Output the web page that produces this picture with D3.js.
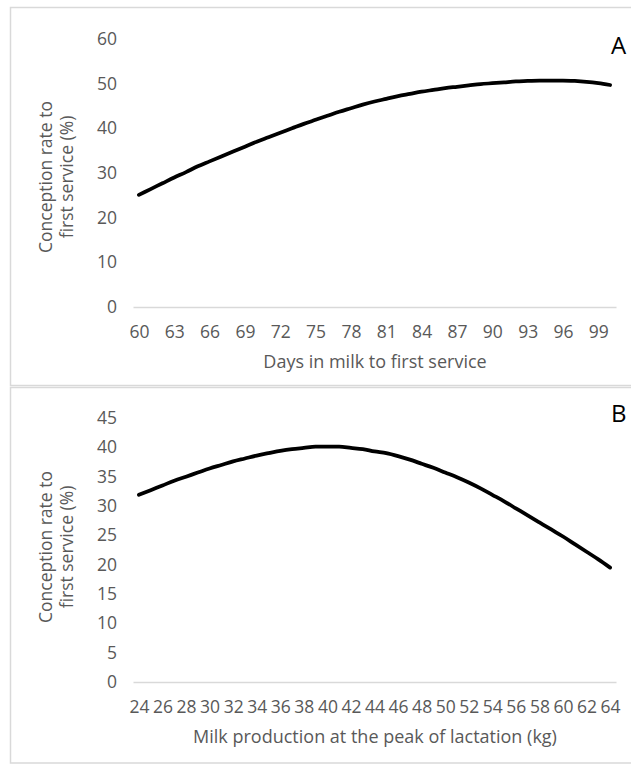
<!DOCTYPE html>
<html>
<head>
<meta charset="utf-8">
<script src="https://cdn.jsdelivr.net/npm/d3@7"></script>
<style>
  body { margin: 0; background: #fff; }
  text { font-family: "Open Sans", sans-serif; }
  .tick text { fill: #595959; font-size: 17.5px; }
  .axis-title { fill: #595959; font-size: 18px; text-anchor: middle; }
  .y-title { fill: #595959; font-size: 17.5px; text-anchor: middle; }
  .panel-tag { fill: #000; text-anchor: start; }
</style>
</head>
<body>
<div id="chart"></div>
<script>
// panel A: days in milk to first service
const daysInMilk = [60, 61, 62, 63, 64, 65, 66, 67, 68, 69, 70, 71, 72, 73, 74, 75, 76, 77, 78, 79, 80,
    81, 82, 83, 84, 85, 86, 87, 88, 89, 90, 91, 92, 93, 94, 95, 96, 97, 98, 99, 100];
const conceptionByDays = [25.1, 26.4, 27.7, 29.0, 30.2, 31.5, 32.6, 33.7, 34.8, 35.9, 37.0, 38.0, 39.0, 40.0,
    41.0, 41.9, 42.8, 43.7, 44.5, 45.3, 46.0, 46.6, 47.2, 47.7, 48.2, 48.6, 49.0, 49.3, 49.6, 49.9, 50.1,
    50.3, 50.5, 50.6, 50.7, 50.7, 50.7, 50.6, 50.4, 50.1, 49.7];
const daysTickLabels = [60, 63, 66, 69, 72, 75, 78, 81, 84, 87, 90, 93, 96, 99];
const yTicksA = [0, 10, 20, 30, 40, 50, 60];

// panel B: milk at peak of lactation
const peakMilk = [24, 25, 26, 27, 28, 29, 30, 31, 32, 33, 34, 35, 36, 37, 38, 39, 40, 41, 42, 43, 44,
    45, 46, 47, 48, 49, 50, 51, 52, 53, 54, 55, 56, 57, 58, 59, 60, 61, 62, 63, 64];
const conceptionByMilk = [31.9, 32.7, 33.5, 34.3, 35.0, 35.7, 36.4, 37.0, 37.6, 38.1, 38.6, 39.0, 39.4, 39.7,
    39.9, 40.1, 40.1, 40.1, 39.9, 39.7, 39.3, 39.0, 38.5, 37.9, 37.2, 36.5, 35.7, 34.9, 34.0, 33.0, 31.9,
    30.8, 29.6, 28.4, 27.2, 26.0, 24.8, 23.5, 22.2, 20.9, 19.5];
const milkTickLabels = [24, 26, 28, 30, 32, 34, 36, 38, 40, 42, 44, 46, 48, 50, 52, 54, 56, 58, 60, 62, 64];
const yTicksB = [0, 5, 10, 15, 20, 25, 30, 35, 40, 45];

const svg = d3.select("#chart")
    .append("svg")
    .attr("width", 631)
    .attr("height", 765);

function drawPanel(opts) {
    const { top, bottom, yTop, yZero, cats, values, xTicks, yTicks, yMax, xTitle, tag, tagY } = opts;

    // chart border
    svg.append("rect")
        .attr("x", 10.5)
        .attr("y", top)
        .attr("width", 640)
        .attr("height", bottom - top)
        .attr("fill", "none")
        .attr("stroke", "#d9d9d9")
        .attr("stroke-width", 1.5);

    const x = d3.scalePoint().domain(cats).range([133, 616]).padding(0.5);
    const y = d3.scaleLinear().domain([0, yMax]).range([yZero, yTop]);

    svg.append("g")
        .attr("transform", `translate(0, ${yZero})`)
        .call(d3.axisBottom(x).tickValues(xTicks).tickSize(0).tickSizeOuter(0).tickPadding(19))
        .call(g => g.select(".domain").attr("stroke", "#d9d9d9").attr("stroke-width", 1.5));

    svg.append("g")
        .attr("transform", `translate(133, 0)`)
        .call(d3.axisLeft(y).tickValues(yTicks).tickSize(0).tickPadding(16))
        .call(g => g.select(".domain").remove());

    svg.selectAll("g.tick text").attr("font-family", null).attr("font-size", null);

    const line = d3.line()
        .x((d, i) => x(cats[i]))
        .y(d => y(d))
        .curve(d3.curveMonotoneX);

    svg.append("path")
        .datum(values)
        .attr("fill", "none")
        .attr("stroke", "#000")
        .attr("stroke-width", 3.75)
        .attr("stroke-linecap", "round")
        .attr("stroke-linejoin", "round")
        .attr("d", line);

    svg.append("text")
        .attr("class", "axis-title")
        .attr("x", 375)
        .attr("y", yZero + 61)
        .text(xTitle);

    const yTitle = svg.append("text")
        .attr("class", "y-title")
        .attr("transform", `translate(46, ${opts.yTitleMid}) rotate(-90)`);
    yTitle.append("tspan").attr("x", 0).attr("dy", "0.35em").text("Conception rate to");
    yTitle.append("tspan").attr("x", 0).attr("dy", "1.2em").text("first service (%)");

    svg.append("text")
        .attr("class", "panel-tag")
        .attr("x", 611)
        .attr("y", tagY)
        .style("font-size", "24px")
        .text(tag);
}

drawPanel({
    top: 7.5, bottom: 385.5, yTop: 39, yZero: 307, yMax: 60,
    cats: daysInMilk, values: conceptionByDays, xTicks: daysTickLabels, yTicks: yTicksA,
    xTitle: "Days in milk to first service", tag: "A", tagY: 54, yTitleMid: 177
});

drawPanel({
    top: 387.5, bottom: 763, yTop: 418, yZero: 682, yMax: 45,
    cats: peakMilk, values: conceptionByMilk, xTicks: milkTickLabels, yTicks: yTicksB,
    xTitle: "Milk production at the peak of lactation (kg)", tag: "B", tagY: 422, yTitleMid: 547
});
</script>
</body>
</html>
